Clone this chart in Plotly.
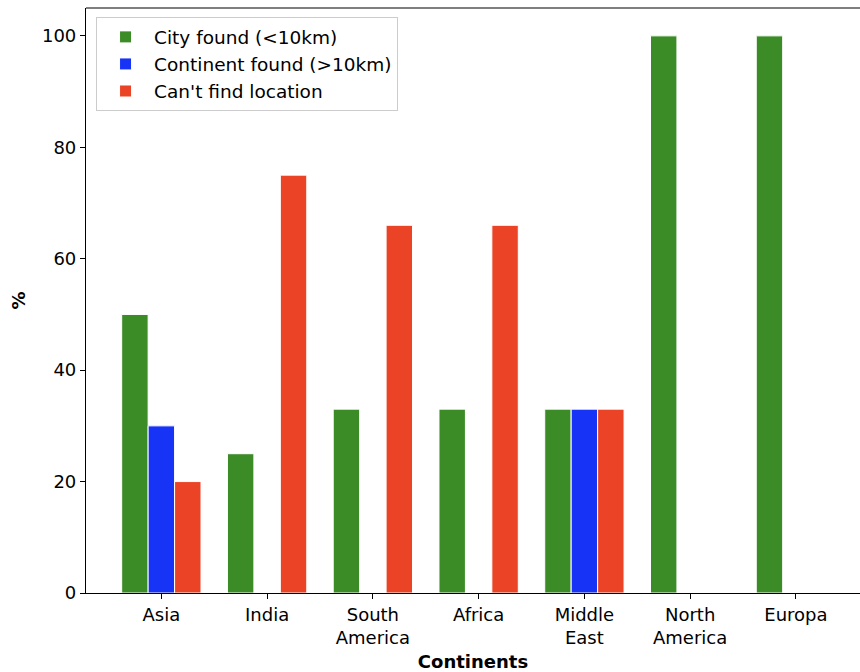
import plotly.graph_objects as go

categories = ["Asia", "India", "South<br>America", "Africa", "Middle<br>East", "North<br>America", "Europa"]
city_found = [50, 25, 33, 33, 33, 100, 100]
continent_found = [30, 0, 0, 0, 33, 0, 0]
cant_find = [20, 75, 66, 66, 33, 0, 0]
y_ticks = [0, 20, 40, 60, 80, 100]

series = [
    ("City found (<10km)", city_found, "#3B8B27"),
    ("Continent found (>10km)", continent_found, "#1733F6"),
    ("Can't find location", cant_find, "#EB4325"),
]

FONT = "DejaVu Sans"
fig = go.Figure()
for name, vals, col in series:
    fig.add_trace(go.Bar(
        x=categories, y=vals, name=name,
        marker=dict(color=col, line=dict(color="white", width=1)),
    ))

fig.update_layout(
    width=860, height=672,
    margin=dict(l=86, r=0, t=8, b=79),
    paper_bgcolor="white", plot_bgcolor="white",
    barmode="group", bargap=0.25, bargroupgap=0,
    font=dict(family=FONT, size=18, color="black"),
    legend=dict(
        x=0.013, y=0.984, xanchor="left", yanchor="top",
        bgcolor="rgba(255,255,255,0.8)", bordercolor="#cccccc", borderwidth=1,
        font=dict(size=18.5), itemwidth=47, tracegroupgap=0,
    ),
    showlegend=True,
)
fig.update_xaxes(
    range=[-0.7125, 6.606], showline=True, linecolor="black", linewidth=1.2,
    ticks="outside", ticklen=5, tickcolor="black", showgrid=False, automargin=False,
    title=dict(text="<b>Continents</b>", font=dict(size=18), standoff=9),
)
fig.update_yaxes(
    range=[0, 105], tickvals=y_ticks, showline=True, linecolor="black", linewidth=1.2,
    ticks="outside", ticklen=5, tickcolor="black", showgrid=False, zeroline=False,
    automargin=False,
    title=dict(text="<b>%</b>", font=dict(size=18), standoff=11),
)
fig.add_shape(type="line", xref="paper", yref="paper", x0=0, x1=1, y0=1, y1=1,
              line=dict(color="black", width=1.2))
fig.write_html(
    "out.html",
    config={"displayModeBar": False},
    post_script="document.body.style.margin='0';document.body.style.overflow='hidden';",
)
